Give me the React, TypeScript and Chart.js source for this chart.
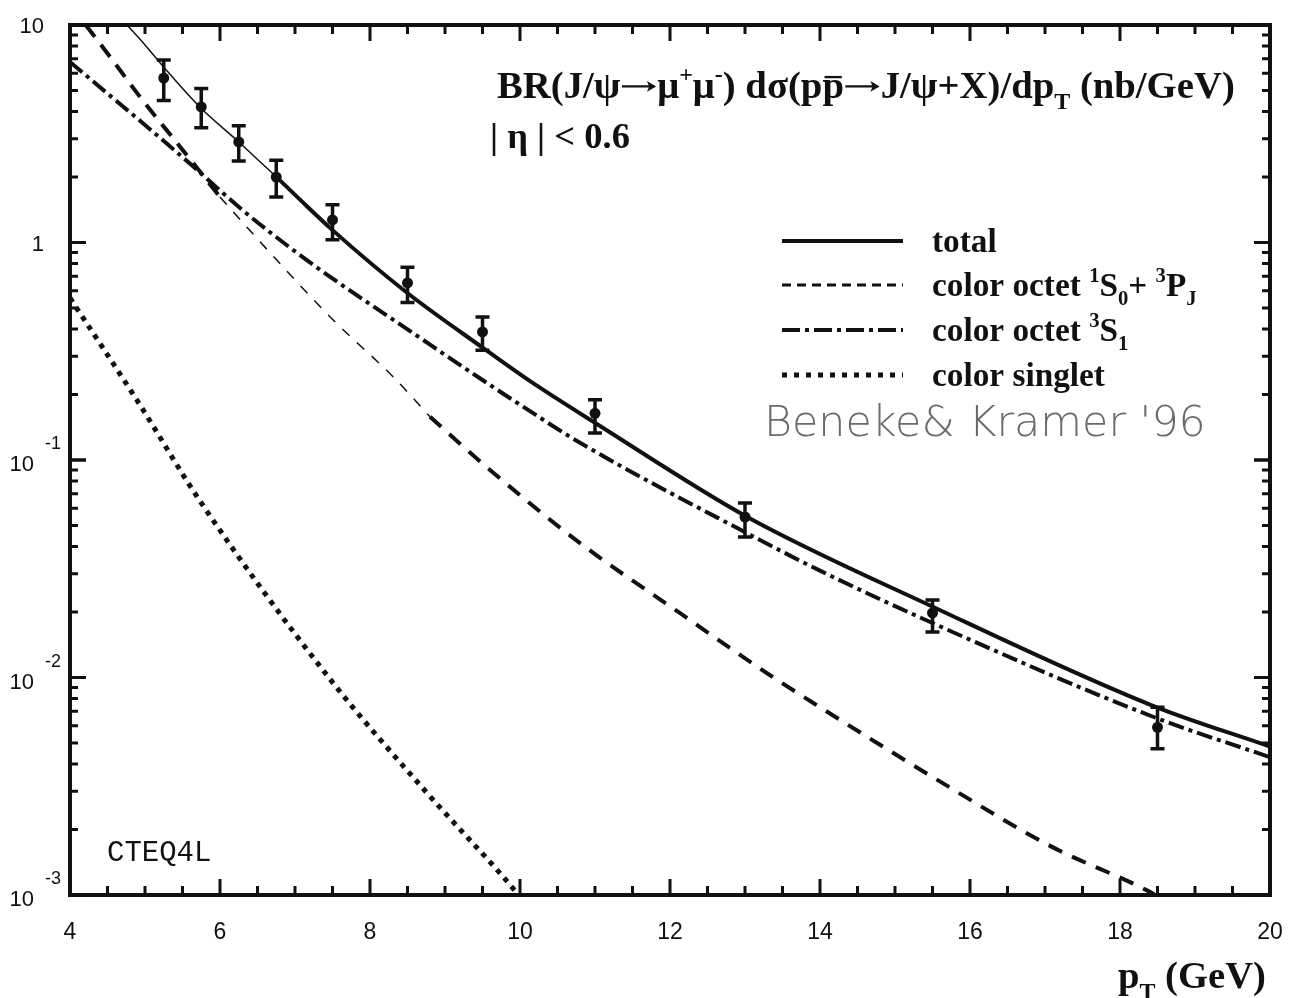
import { useEffect, useRef } from 'react';
import { Chart, registerables } from 'chart.js';

Chart.register(...registerables);

// ---- data ----
const totalThinX = [4.76, 5.0, 5.25, 5.73, 6.25, 6.8];
const totalThinY = [10, 8.1, 6.4, 4.2, 2.9, 1.93];
const totalX = [6.8, 7.07, 7.5, 8.49, 9.51, 10.13, 11.03, 13.03, 15.51, 18.44, 20];
const totalY = [1.93, 1.57, 1.14, 0.589, 0.327, 0.231, 0.146, 0.0547, 0.0211, 0.00741, 0.00481];

const octetPX_A = [4.21, 4.5, 4.97, 5.47, 6.0];
const octetPY_A = [10, 7.4, 4.5, 2.75, 1.62];
const octetPX_thin = [6.0, 6.67, 7.51, 8.31, 8.8];
const octetPY_thin = [1.62, 0.895, 0.44, 0.241, 0.158];
const octetPX_B = [8.8, 9.6, 10.8, 12.13, 13.37, 14.0, 15.5, 17.1, 18.36, 18.6];
const octetPY_B = [0.158, 0.09, 0.0415, 0.0198, 0.01005, 0.0073, 0.00349, 0.00166, 0.00105, 0.00094];

const octetSX = [4.0, 4.5, 5.0, 5.29, 5.64, 6.31, 7.0, 7.43, 8.57, 9.47, 10.04, 10.8, 13.03, 14.0, 15.5, 18.44, 20];
const octetSY = [6.76, 4.84, 3.47, 2.85, 2.24, 1.4, 0.91, 0.71, 0.384, 0.237, 0.176, 0.12, 0.046, 0.031, 0.0178, 0.0066, 0.0043];

const singletX = [4.0, 4.89, 5.73, 7.45, 8.74, 9.76, 9.93, 10.1];
const singletY = [0.556, 0.189, 0.065, 0.01, 0.003, 0.00123, 0.00105, 0.0009];

const dataX = [5.25, 5.75, 6.25, 6.75, 7.5, 8.5, 9.5, 11, 13, 15.5, 18.5];
const dataY = [5.7, 4.2, 2.9, 2.0, 1.27, 0.652, 0.388, 0.164, 0.0547, 0.0198, 0.0059];
const dataHi = [6.9, 5.1, 3.44, 2.39, 1.49, 0.77, 0.454, 0.189, 0.0634, 0.0227, 0.0073];
const dataLo = [4.5, 3.37, 2.37, 1.62, 1.03, 0.53, 0.32, 0.133, 0.0443, 0.0162, 0.0047];

const xMajorTicks = [4, 6, 8, 10, 12, 14, 16, 18, 20];
const yDecades = [-3, -2, -1, 0, 1];

const SERIF = "'Liberation Serif', 'Times New Roman', serif";
const SANS = "'Liberation Sans', Arial, sans-serif";

const pts = (xs: number[], ys: number[]) => xs.map((x, i) => ({ x, y: ys[i] }));

type Seg = { t: string; k?: 'sup' | 'sub'; b?: boolean; bar?: boolean; arrow?: boolean };

function segFont(s: Seg, size: number, family: string, weight: string) {
  const sz = s.k ? size * 0.62 : size;
  return `${s.b ? 'bold' : weight} ${sz}px ${family}`;
}

function segWidth(ctx: CanvasRenderingContext2D, s: Seg, size: number, family: string, weight: string) {
  if (s.arrow) return size * 0.95;
  ctx.font = segFont(s, size, family, weight);
  return ctx.measureText(s.t).width;
}

function drawRich(
  ctx: CanvasRenderingContext2D,
  segs: Seg[],
  x: number,
  y: number,
  size: number,
  family: string,
  targetW?: number,
  weight: string = 'normal'
) {
  let sz = size;
  if (targetW) {
    let w = 0;
    for (const s of segs) w += segWidth(ctx, s, 100, family, weight);
    sz = (100 * targetW) / w;
  }
  let cx = x;
  ctx.textBaseline = 'alphabetic';
  ctx.textAlign = 'left';
  for (const s of segs) {
    const w = segWidth(ctx, s, sz, family, weight);
    if (s.arrow) {
      const ay = y - sz * 0.3;
      ctx.save();
      ctx.lineWidth = Math.max(1.5, sz * 0.06);
      ctx.beginPath();
      ctx.moveTo(cx + w * 0.04, ay);
      ctx.lineTo(cx + w * 0.92, ay);
      ctx.stroke();
      ctx.beginPath();
      ctx.moveTo(cx + w * 0.97, ay);
      ctx.lineTo(cx + w * 0.72, ay - sz * 0.14);
      ctx.lineTo(cx + w * 0.78, ay);
      ctx.lineTo(cx + w * 0.72, ay + sz * 0.14);
      ctx.closePath();
      ctx.fill();
      ctx.restore();
    } else {
      ctx.font = segFont(s, sz, family, weight);
      const dy = s.k === 'sup' ? -0.42 * sz : s.k === 'sub' ? 0.28 * sz : 0;
      ctx.fillText(s.t, cx, y + dy);
      if (s.bar) {
        ctx.save();
        ctx.lineWidth = Math.max(1.5, sz * 0.06);
        ctx.beginPath();
        ctx.moveTo(cx + w * 0.1, y - sz * 0.54);
        ctx.lineTo(cx + w * 0.9, y - sz * 0.54);
        ctx.stroke();
        ctx.restore();
      }
    }
    cx += w;
  }
  return sz;
}

const decorPlugin = {
  id: 'decor',
  beforeDraw(chart: any) {
    const ctx = chart.ctx as CanvasRenderingContext2D;
    ctx.save();
    ctx.fillStyle = '#ffffff';
    ctx.fillRect(0, 0, chart.width, chart.height);
    ctx.restore();
  },
  afterDatasetsDraw(chart: any) {
    const ctx = chart.ctx as CanvasRenderingContext2D;
    const xs = chart.scales.x;
    const ys = chart.scales.y;
    ctx.save();
    ctx.strokeStyle = '#111';
    ctx.lineWidth = 3.5;
    ctx.lineCap = 'butt';
    dataX.forEach((x, i) => {
      const px = xs.getPixelForValue(x);
      const pHi = ys.getPixelForValue(dataHi[i]);
      const pLo = ys.getPixelForValue(dataLo[i]);
      ctx.beginPath();
      ctx.moveTo(px, pHi);
      ctx.lineTo(px, pLo);
      ctx.moveTo(px - 7, pHi);
      ctx.lineTo(px + 7, pHi);
      ctx.moveTo(px - 7, pLo);
      ctx.lineTo(px + 7, pLo);
      ctx.stroke();
    });
    ctx.restore();
  },
  afterDraw(chart: any) {
    const ctx = chart.ctx as CanvasRenderingContext2D;
    const area = chart.chartArea;
    const xs = chart.scales.x;
    const ys = chart.scales.y;
    ctx.save();
    ctx.strokeStyle = '#111';
    ctx.fillStyle = '#111';

    // frame
    ctx.lineWidth = 4;
    ctx.strokeRect(area.left, area.top, area.right - area.left, area.bottom - area.top);

    // x ticks
    ctx.lineWidth = 3;
    for (let v = 4; v <= 20.001; v += 0.5) {
      const px = xs.getPixelForValue(v);
      const major = Math.abs(v / 2 - Math.round(v / 2)) < 1e-6;
      const len = major ? 16 : 9;
      ctx.beginPath();
      ctx.moveTo(px, area.bottom);
      ctx.lineTo(px, area.bottom - len);
      ctx.moveTo(px, area.top);
      ctx.lineTo(px, area.top + len);
      ctx.stroke();
    }
    // y ticks
    for (let d = -3; d <= 0; d++) {
      for (let m = 1; m <= 10; m++) {
        const v = m * Math.pow(10, d);
        const py = ys.getPixelForValue(v);
        const major = m === 1 || m === 10;
        const len = major ? 16 : 8;
        ctx.beginPath();
        ctx.moveTo(area.left, py);
        ctx.lineTo(area.left + len, py);
        ctx.moveTo(area.right, py);
        ctx.lineTo(area.right - len, py);
        ctx.stroke();
      }
    }

    // x tick labels
    ctx.font = `23px ${SANS}`;
    ctx.textAlign = 'center';
    ctx.textBaseline = 'alphabetic';
    xMajorTicks.forEach((v) => {
      ctx.fillText(String(v), xs.getPixelForValue(v), area.bottom + 44);
    });

    // y tick labels
    yDecades.forEach((d) => {
      const py = ys.getPixelForValue(Math.pow(10, d));
      ctx.font = `22px ${SANS}`;
      if (d === 1) {
        ctx.textAlign = 'right';
        ctx.fillText('10', 44, py + 8);
      } else if (d === 0) {
        ctx.textAlign = 'right';
        ctx.fillText('1', 44, py + 8);
      } else {
        ctx.textAlign = 'right';
        ctx.fillText('10', 34, py + 11);
        ctx.textAlign = 'left';
        ctx.font = `18px ${SANS}`;
        ctx.fillText(String(d), 45, py - 11);
      }
    });

    // axis title
    drawRich(
      ctx,
      [
        { t: 'p', b: true },
        { t: 'T', k: 'sub' },
        { t: ' (GeV)' },
      ],
      1118,
      988,
      36,
      SERIF,
      148,
      'bold'
    );

    // title annotation
    drawRich(
      ctx,
      [
        { t: 'BR(J/ψ' },
        { t: '', arrow: true },
        { t: 'μ' },
        { t: '+', k: 'sup' },
        { t: 'μ' },
        { t: '-', k: 'sup' },
        { t: ') dσ(p' },
        { t: 'p', bar: true },
        { t: '', arrow: true },
        { t: 'J/ψ+X)/dp', },
        { t: 'T', k: 'sub' },
        { t: ' (nb/GeV)' },
      ],
      497,
      98,
      32,
      SERIF,
      738,
      'bold'
    );
    drawRich(ctx, [{ t: '| η | < 0.6' }], 490, 148, 32, SERIF, 140, 'bold');

    // legend
    const lx0 = 782;
    const lx1 = 903;
    const rows = [241, 285, 330, 375];
    const styles: { w: number; dash: number[] }[] = [
      { w: 4, dash: [] },
      { w: 3, dash: [9, 6] },
      { w: 4, dash: [18, 5, 4, 5] },
      { w: 5, dash: [5, 7] },
    ];
    rows.forEach((ry, i) => {
      ctx.save();
      ctx.lineWidth = styles[i].w;
      ctx.setLineDash(styles[i].dash);
      ctx.beginPath();
      ctx.moveTo(lx0, ry);
      ctx.lineTo(lx1, ry);
      ctx.stroke();
      ctx.restore();
    });
    const lsz = drawRich(ctx, [{ t: 'color singlet' }], 932, rows[3] + 11, 32, SERIF, 173, 'bold');
    drawRich(ctx, [{ t: 'total' }], 932, rows[0] + 11, lsz, SERIF, undefined, 'bold');
    drawRich(
      ctx,
      [
        { t: 'color octet ' },
        { t: '1', k: 'sup' },
        { t: 'S' },
        { t: '0', k: 'sub' },
        { t: '+ ' },
        { t: '3', k: 'sup' },
        { t: 'P' },
        { t: 'J', k: 'sub' },
      ],
      932,
      rows[1] + 11,
      lsz,
      SERIF,
      undefined,
      'bold'
    );
    drawRich(
      ctx,
      [{ t: 'color octet ' }, { t: '3', k: 'sup' }, { t: 'S' }, { t: '1', k: 'sub' }],
      932,
      rows[2] + 11,
      lsz,
      SERIF,
      undefined,
      'bold'
    );

    // handwritten note
    ctx.save();
    ctx.fillStyle = '#6a6a6a';
    drawRich(ctx, [{ t: "Beneke& Kramer '96" }], 764, 436, 40, "'DejaVu Sans', sans-serif", 442, '200');
    ctx.restore();

    // CTEQ4L
    ctx.font = `29px 'Liberation Mono', 'Courier New', monospace`;
    ctx.textAlign = 'left';
    ctx.fillText('CTEQ4L', 107, 861);

    ctx.restore();
  },
};

export default function App() {
  const ref = useRef<HTMLCanvasElement | null>(null);

  useEffect(() => {
    if (!ref.current) return;
    const line = (d: { x: number; y: number }[], w: number, dash: number[]) => ({
      type: 'line' as const,
      data: d,
      borderColor: '#111',
      borderWidth: w,
      borderDash: dash,
      borderCapStyle: 'butt' as const,
      pointRadius: 0,
      fill: false,
      cubicInterpolationMode: 'monotone' as const,
      clip: 0,
    });
    const chart = new Chart(ref.current, {
      type: 'line',
      data: {
        datasets: [
          line(pts(totalThinX, totalThinY), 1.5, []),
          line(pts(totalX, totalY), 4, []),
          line(pts(octetPX_A, octetPY_A), 4, [15, 10]),
          line(pts(octetPX_thin, octetPY_thin), 1.5, [10, 10]),
          line(pts(octetPX_B, octetPY_B), 4, [15, 11]),
          line(pts(octetSX, octetSY), 4, [16, 5, 4, 5]),
          line(pts(singletX, singletY), 5, [5, 6]),
          {
            type: 'line' as const,
            data: pts(dataX, dataY),
            showLine: false,
            pointRadius: 5.5,
            pointBackgroundColor: '#111',
            pointBorderColor: '#111',
            pointBorderWidth: 0,
            clip: 0,
          } as any,
        ],
      },
      options: {
        responsive: false,
        animation: false,
        devicePixelRatio: 1,
        layout: { padding: { left: 70, right: 23, top: 25, bottom: 103 } },
        plugins: {
          legend: { display: false },
          tooltip: { enabled: false },
        },
        scales: {
          x: { type: 'linear', min: 4, max: 20, display: false },
          y: { type: 'logarithmic', min: 0.001, max: 10, display: false },
        },
      },
      plugins: [decorPlugin],
    } as any);
    return () => chart.destroy();
  }, []);

  return (
    <div style={{ position: 'fixed', left: 0, top: 0, width: 1293, height: 998, background: '#fff' }}>
      <canvas ref={ref} width={1293} height={998} style={{ display: 'block', width: 1293, height: 998 }} />
    </div>
  );
}
